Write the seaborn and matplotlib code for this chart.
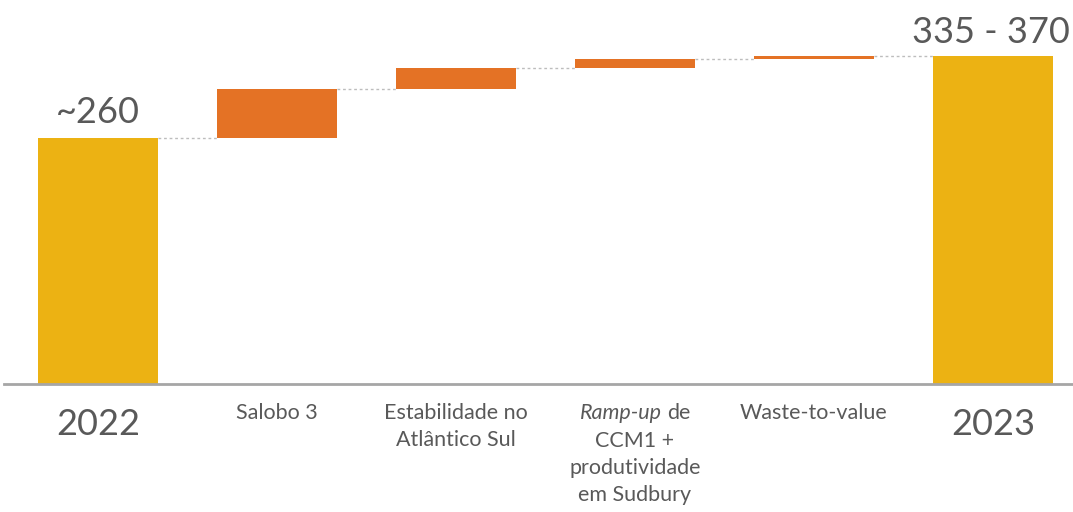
import matplotlib
matplotlib.use("Agg")
import matplotlib.pyplot as plt
import seaborn as sns
import numpy as np

# ---- data ----
categories = ["2022", "Salobo 3", "Estabilidade no\nAtlântico Sul", "Ramp-up de\nCCM1 +\nprodutividade\nem Sudbury", "Waste-to-value", "2023"]
start_value = 260
increments = [52, 22, 10, 3]
end_value = 347
value_labels = ["~260", "335 - 370"]

GOLD = "#ECB213"
ORANGE = "#E47225"
TXT = "#595959"

sns.set_theme(style="white")
plt.rcParams["font.family"] = ["Lato", "DejaVu Sans"]

# compute waterfall tops/bottoms
tops, bottoms = [start_value], [0]
level = start_value
for inc in increments:
    bottoms.append(level)
    level += inc
    tops.append(level)
tops.append(end_value)
bottoms.append(0)
colors = [GOLD] + [ORANGE] * len(increments) + [GOLD]

fig = plt.figure(figsize=(10.73, 5.12), dpi=100)
ax = fig.add_axes([4 / 1073, 128 / 512, 1 - 4 / 1073, 384 / 512])

x_idx = list(range(len(categories)))
W = 0.67
sns.barplot(x=x_idx, y=tops, hue=x_idx, palette=colors, legend=False,
            width=W, saturation=1, ax=ax, linewidth=0)
for p, b, t in zip(ax.patches, bottoms, tops):
    p.set_y(b)
    p.set_height(t - b)

# connectors
for i in range(len(categories) - 1):
    ax.hlines(tops[i], i + W / 2, i + 1 - W / 2, colors="#BDBDBD",
              linestyles=(0, (2, 2)), linewidth=1)

ax.set_xlim(-0.525, 5.447)
ax.set_ylim(0, 406)
for s in ["top", "left", "right"]:
    ax.spines[s].set_visible(False)
ax.spines["bottom"].set_color("#A6A6A6")
ax.spines["bottom"].set_linewidth(2)
ax.set_xticks([])
ax.set_yticks([])
ax.set_xlabel("")
ax.set_ylabel("")

PT = 0.72  # points per pixel at dpi 100
FW = "normal"
SMALL = 15.5
BIG = 26

# value labels
ax.annotate(value_labels[0], xy=(0, tops[0]), xytext=(0, 9 * PT), textcoords="offset points",
            ha="center", va="bottom", fontsize=BIG, color=TXT, fontweight=FW)
ax.annotate(value_labels[1], xy=(5, tops[5]), xytext=(-2 * PT, 7 * PT), textcoords="offset points",
            ha="center", va="bottom", fontsize=BIG, color=TXT, fontweight=FW)

# category labels
big = {0, 5}
LY = -19 * PT
for i, lab in enumerate(categories):
    if i == 3:
        continue
    if i in big:
        ax.annotate(lab, xy=(i, 0), xytext=(0, -24 * PT), textcoords="offset points",
                    ha="center", va="top", fontsize=BIG, color=TXT, fontweight=FW)
    else:
        ax.annotate(lab, xy=(i, 0), xytext=(0, LY), textcoords="offset points",
                    ha="center", va="top", fontsize=SMALL, color=TXT, linespacing=1.45,
                    fontweight=FW)

# mixed-style label for index 3
lines = categories[3].split("\n")
first = lines[0]
ital, rest = "Ramp-up", first[len("Ramp-up"):].strip()
t1 = ax.annotate(ital, xy=(3, 0), xytext=(0, LY), textcoords="offset points",
                 ha="left", va="top", fontsize=SMALL, color=TXT, style="italic", fontweight=FW)
t2 = ax.annotate(rest, xy=(3, 0), xytext=(0, LY), textcoords="offset points",
                 ha="left", va="top", fontsize=SMALL, color=TXT, fontweight=FW)
fig.canvas.draw()
r = fig.canvas.get_renderer()
w1 = t1.get_window_extent(r).width
w2 = t2.get_window_extent(r).width
gap = 5
tot = w1 + gap + w2
t1.set_position((-tot / 2 * PT, LY))
t2.set_position(((-tot / 2 + w1 + gap) * PT, LY))
ax.annotate("\n".join(lines[1:]), xy=(3, 0), xytext=(0, LY - 28 * PT), textcoords="offset points",
            ha="center", va="top", fontsize=SMALL, color=TXT, linespacing=1.45, fontweight=FW)

fig.savefig("out.png", dpi=100)
